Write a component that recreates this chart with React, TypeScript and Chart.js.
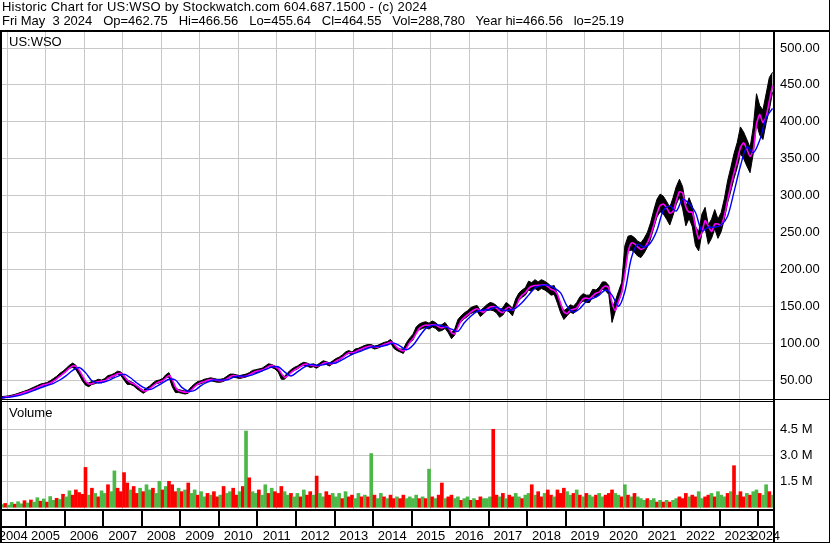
import React, { useEffect, useRef } from 'react';
import { Chart, registerables } from 'chart.js';
Chart.register(...registerables);

// ---- Data ----
const SYMBOL = 'US:WSO';
const START_X = 2004.37; // first monthly sample: May 2004
const X_MIN = 2004.369;
const X_MAX = 2024.382;
const YEAR_BOUNDS = [2005, 2006, 2007, 2008, 2009, 2010, 2011, 2012, 2013, 2014, 2015, 2016, 2017, 2018, 2019, 2020, 2021, 2022, 2023, 2024];
const YEAR_LABELS = ['2004', '2005', '2006', '2007', '2008', '2009', '2010', '2011', '2012', '2013', '2014', '2015', '2016', '2017', '2018', '2019', '2020', '2021', '2022', '2023', '2024'];
const PRICE_TICKS = [50, 75, 100, 125, 150, 175, 200, 225, 250, 275, 300, 325, 350, 375, 400, 425, 450, 475, 500];
const VOLUME_TICKS = [1500000, 3000000, 4500000];

// monthly high (visual top of bars)
const high = [
  27.5, 28, 28.5, 29.5, 30.5, 32, 33.5, 35,
  36.5, 38.5, 40.5, 42.5, 44.5, 45.5, 46.5, 49, 52, 55, 59, 62,
  66, 70, 73, 70, 63, 55, 47, 46, 48, 49, 51, 50,
  52, 56, 57, 59, 62, 61, 56, 50, 48, 46, 42, 39,
  36, 39, 42, 46, 49, 50, 52, 57, 60, 49, 39, 37,
  36, 35, 36, 41, 45, 48, 49, 51, 52, 53, 52, 51,
  51, 52, 55, 58, 58, 57, 56, 57, 58, 60, 63, 64,
  65, 66, 69, 72, 71, 69, 66, 57, 55, 60, 64, 67,
  69, 72, 74, 73, 71, 72, 70, 73, 76, 75, 73, 76,
  79, 81, 84, 88, 90, 88, 92, 93, 95, 97, 98, 98,
  96, 97, 99, 101, 102, 105, 99, 94, 92, 92, 101, 107,
  112, 122, 126, 128, 129, 127, 130, 128, 124, 125, 128, 122,
  114, 119, 132, 137, 141, 144, 148, 150, 151, 144, 148, 152,
  155, 154, 151, 145, 148, 155, 152, 147, 160, 168, 172, 175,
  184, 182, 186, 183, 186, 184, 181, 177, 178, 166, 153, 144,
  147, 152, 150, 155, 163, 167, 165, 165, 173, 172, 176, 183,
  183, 178, 148, 157, 170, 182, 232, 245, 246, 243, 238, 236,
  242, 250, 263, 280, 295, 302, 299, 292, 284, 297, 312, 322,
  312, 285, 297, 286, 258, 251, 275, 284, 260, 268, 281, 268,
  277, 296, 320, 338, 357, 372, 393, 386, 376, 365, 393, 438,
  422, 416, 438, 460, 467,
];

// monthly low (visual bottom of bars)
const low = [
  25.2, 26, 26.5, 27.5, 28.5, 30, 31.5, 33,
  33.5, 35.5, 37.5, 39.5, 41.5, 42.5, 43.5, 45, 48, 51, 55, 58,
  62, 66, 67, 64, 57, 49, 43, 41, 44, 45, 47, 46,
  48, 52, 53, 55, 58, 56, 50, 44, 44, 42, 38, 35,
  32, 35, 38, 42, 45, 46, 48, 53, 54, 41, 33, 33,
  32, 31, 32, 37, 41, 44, 45, 47, 48, 49, 48, 47,
  47, 48, 51, 54, 54, 53, 52, 53, 54, 56, 59, 60,
  61, 62, 65, 68, 67, 65, 61, 51, 51, 56, 60, 63,
  65, 68, 70, 69, 67, 68, 66, 69, 72, 71, 69, 72,
  75, 77, 80, 84, 86, 84, 88, 89, 91, 93, 94, 94,
  92, 93, 95, 97, 98, 101, 93, 90, 88, 86, 95, 101,
  104, 114, 118, 120, 121, 119, 122, 120, 116, 117, 120, 114,
  106, 111, 124, 129, 133, 136, 140, 142, 143, 136, 140, 144,
  145, 144, 141, 135, 138, 145, 142, 137, 150, 158, 162, 165,
  172, 170, 174, 171, 174, 172, 169, 165, 166, 154, 141, 132,
  137, 142, 140, 145, 153, 157, 155, 155, 163, 162, 166, 173,
  171, 166, 128, 143, 156, 168, 195, 225, 226, 223, 218, 216,
  222, 230, 241, 256, 271, 278, 275, 268, 260, 273, 288, 298,
  282, 259, 269, 258, 232, 225, 249, 256, 234, 242, 255, 242,
  251, 268, 290, 306, 323, 338, 357, 350, 340, 331, 357, 398,
  382, 376, 398, 416, 440,
];

// short moving average (magenta), monthly
const maShort = [
  26, 26.8, 27.3, 28, 29, 30.3, 31.8, 33.3,
  34.5, 36, 38, 40, 42, 43.5, 44.5, 46, 48.5, 51.5, 55, 58.5,
  62, 66, 69, 68.5, 63.5, 56, 48.5, 44.5, 45, 46.5, 48, 48.5,
  49, 52, 54.5, 56, 58.5, 59, 55.5, 50, 46.5, 45, 42, 38.5,
  35.5, 35.5, 38.5, 42, 45.5, 47.5, 49, 52.5, 56, 51, 40.5, 35.5,
  34.5, 33.5, 33.5, 36.5, 41, 44.5, 46.5, 48, 49.5, 50.5, 50.5, 49.5,
  49, 49.5, 51.5, 54.5, 56, 55.5, 54.5, 54.5, 55.5, 57, 59.5, 61.5,
  62.5, 63.5, 65.5, 68.5, 69.5, 68, 65.5, 59, 53.5, 55.5, 60, 63.5,
  66, 68.5, 71, 71.5, 70, 69.5, 69, 69.5, 72.5, 73.5, 72, 72.5,
  75.5, 78, 80.5, 84, 87, 87, 88, 90.5, 92, 94, 95.5, 96,
  95, 94.5, 96, 98, 99.5, 101.5, 99.5, 94, 91, 89.5, 93.5, 101,
  106, 113, 120, 123, 124.5, 124, 124.5, 125, 122, 120.5, 122.5, 121,
  114, 112.5, 121.5, 130.5, 135, 138.5, 142, 145, 146.5, 143.5, 142, 146,
  149, 149.5, 147.5, 143, 141.5, 146.5, 148.5, 144.5, 148.5, 159, 165, 168.5,
  174, 177, 178, 178.5, 178.5, 179, 176.5, 173, 171.5, 166, 153.5, 142.5,
  140, 144.5, 146, 147.5, 154, 160, 161, 160, 164, 167.5, 169, 174.5,
  177.5, 174.5, 155, 144, 156.5, 169, 193.5, 223.5, 235.5, 234.5, 230.5, 227,
  229, 236, 246, 260, 275.5, 286.5, 288.5, 283.5, 276, 278.5, 292.5, 305,
  303.5, 284.5, 277.5, 277.5, 258.5, 241.5, 250, 266, 258.5, 251, 261.5, 261.5,
  259.5, 273, 293.5, 313.5, 331, 347.5, 365, 371.5, 363, 353, 361.5, 396.5,
  410, 399, 407, 428, 449,
];

// long moving average (blue), every second month
const maLong = [
  26, 26.8, 28, 29.8,
  32.5, 36, 39.5, 42.5, 45.5, 50,
  56, 63, 67, 60, 49, 46,
  47.5, 51, 55, 58, 53, 46,
  40, 37, 41, 46, 51, 50,
  40, 35, 36, 42.5, 47, 50,
  50, 50, 53.5, 55.5, 55, 57,
  60.5, 64, 67.5, 68, 61, 55.5,
  61, 67, 71, 70, 70.5, 73,
  73, 77.5, 82.5, 86.5, 89.5, 93,
  95.5, 95.5, 97.5, 100, 96, 91,
  97, 109, 120, 124, 124.5, 122,
  119, 116, 127.5, 136.5, 143, 145,
  145.5, 149, 144.5, 144.5, 147.5, 155,
  165, 175, 178, 178.5, 175, 168,
  150, 142, 147, 156.5, 160.5, 165,
  172, 165, 150, 170, 215, 234,
  230, 236, 253, 280, 286, 279,
  295, 289, 277, 252, 257, 257,
  260, 272, 305, 340, 366, 358,
  375, 405, 418,
];

// volume in millions of shares, monthly
const volume = [
  0.15, 0.22, 0.12, 0.28, 0.18, 0.32, 0.2, 0.38,
  0.25, 0.42, 0.3, 0.55, 0.35, 0.48, 0.3, 0.62, 0.4, 0.52, 0.45, 0.75,
  0.6, 0.95, 0.7, 1.0, 0.85, 0.75, 2.3, 0.7, 1.1, 0.8, 0.6, 0.95,
  0.8, 1.3, 0.9, 2.1, 1.1, 0.9, 2.0, 1.4, 1.0, 1.2, 0.8, 1.1,
  0.9, 1.3, 1.0, 1.1, 0.8, 1.5, 1.0, 1.2, 1.5, 1.3, 0.9, 1.1,
  0.9, 1.0, 1.4, 0.8, 1.0, 0.7, 0.9, 0.6, 0.8, 0.7, 0.9, 0.6,
  0.7, 1.2, 0.8, 0.9, 1.1, 0.7, 0.9, 1.2, 4.4, 1.7, 0.9, 0.8,
  1.0, 0.7, 1.3, 0.8, 1.1, 0.9, 0.8, 1.2, 0.9, 0.7, 0.8, 0.6,
  0.8, 0.6, 1.0, 0.7, 0.9, 0.7, 1.8, 0.8, 0.6, 0.9, 0.7, 0.8,
  0.6, 0.8, 0.5, 0.9, 0.6, 0.7, 0.5, 0.8, 0.6, 0.7, 0.6, 3.1,
  0.7, 0.5, 0.8, 0.6, 0.5, 0.7, 0.5, 0.6, 0.5, 0.7, 0.5, 0.6,
  0.5, 0.7, 0.5, 0.6, 0.5, 2.2, 0.6, 0.5, 0.7, 1.4, 0.5, 0.6,
  0.7, 0.5, 0.6, 0.4, 0.5, 0.6, 0.4, 0.5, 0.4, 0.6, 0.5, 0.5,
  0.6, 4.5, 0.7, 0.6, 0.8, 0.5, 0.7, 0.6, 0.8, 0.6, 0.5, 0.7,
  0.8, 1.3, 0.7, 0.9, 0.6, 0.8, 1.0, 0.7, 0.6, 1.0, 0.8, 1.1,
  0.9, 0.7, 0.8, 1.0, 0.7, 0.6, 0.8, 0.7, 0.6, 0.7, 0.8, 0.6,
  0.7, 0.8, 1.0, 0.8, 0.7, 0.6, 1.3, 0.7, 0.6, 0.8, 0.6, 0.5,
  0.4, 0.5, 0.4, 0.5, 0.3, 0.4, 0.3, 0.4, 0.3, 0.4, 0.5, 0.6,
  0.5, 0.8, 0.6, 0.7, 0.6, 0.9, 0.5, 0.6, 0.7, 0.8, 0.6, 0.9,
  0.7, 0.6, 0.8, 0.9, 2.4, 0.7, 0.9, 0.6, 0.8, 0.7, 0.9, 1.0,
  0.8, 0.7, 1.3, 0.9, 0.7,
];

// G = up bar, R = down bar (one letter per month)
const volumeDirection =
  'GRGGRGGR' +
  'GRGGRGRGGRGR' + 'GGRRRRRGRGRG' + 'GRGGRRRRGRRG' + 'RGGRGGRGRRRG' +
  'RGRGGRGGRGRR' + 'GRGGRRGRGRGG' + 'RGGRGRRRGGRG' + 'GRGRRGRGGRRG' +
  'GGRGRRGGRGRG' + 'RGGRGRRGRRGG' + 'GGRGRGRGRRGR' + 'RGGRGGRGRRGG' +
  'GRRGRGRRGGRG' + 'GRGRRGRRGRRR' + 'GGRGRGRGGRGG' + 'RRRGGRGRGRGG' +
  'GRGGRGRGRGGR' + 'RRGRRGGRRGRG' + 'GGRGRGRRGRGG' +
  'RGGRG';

const HEADER_1 = 'Historic Chart for US:WSO by Stockwatch.com 604.687.1500 - (c) 2024';
const HEADER_2 = 'Fri May  3 2024   Op=462.75   Hi=466.56   Lo=455.64   Cl=464.55   Vol=288,780   Year hi=466.56   lo=25.19';

const FONT = "'Liberation Sans', Arial, sans-serif";
const GRID = '#c8c8c8';

const monthX = (i: number) => START_X + i / 12;

export default function App() {
  const ref = useRef<HTMLCanvasElement | null>(null);

  useEffect(() => {
    document.body.style.margin = '0';
    const canvas = ref.current;
    if (!canvas) return;

    const framePlugin = {
      id: 'frame',
      afterDraw(chart: any) {
        const ctx = chart.ctx;
        const ca = chart.chartArea;
        const xs = chart.scales.x;
        const yp = chart.scales.y;
        const yv = chart.scales.yv;
        const W = chart.width;
        const H = chart.height;
        ctx.save();
        ctx.fillStyle = '#000';
        ctx.fillRect(0, ca.top, W, 2);
        ctx.fillRect(0, ca.top, ca.left, H - ca.top);
        ctx.fillRect(ca.right, ca.top, 2, H - ca.top);
        ctx.fillRect(0, Math.round(yp.bottom) - 1, W, 1);
        ctx.fillRect(0, Math.round(yp.bottom) + 1, ca.right, 1);
        ctx.fillRect(0, ca.bottom, ca.right, 2);
        const rowY = ca.bottom + 17;
        ctx.fillRect(0, rowY, ca.right, 2);
        ctx.fillRect(W - 1, 0, 1, H);
        ctx.fillRect(0, H - 1, W, 1);
        YEAR_BOUNDS.forEach((yr) => {
          const px = Math.round(xs.getPixelForValue(yr));
          ctx.fillRect(px - 1, ca.bottom, 2, rowY - ca.bottom);
        });
        ctx.font = `13px ${FONT}`;
        ctx.textAlign = 'center';
        ctx.textBaseline = 'middle';
        YEAR_LABELS.forEach((lab, i) => {
          const yr = 2004 + i;
          const l = Math.max(xs.getPixelForValue(yr), 0);
          const r = Math.min(xs.getPixelForValue(yr + 1), ca.right);
          ctx.fillText(lab, (l + r) / 2, rowY + 10);
        });
        ctx.textAlign = 'left';
        ctx.fillText(SYMBOL, ca.left + 7, ca.top + 12);
        ctx.fillText('Volume', ca.left + 7, yv.top + 13);
        ctx.restore();
      },
    };

    const hiData = high.map((v, i) => ({ x: monthX(i), y: v }));
    const loData = low.map((v, i) => ({ x: monthX(i), y: v }));
    const maSData = maShort.map((v, i) => ({ x: monthX(i), y: v }));
    const maLData = maLong.map((v, i) => ({ x: monthX(i * 2), y: v }));
    const volData = volume.map((v, i) => ({ x: monthX(i), y: v * 1e6 }));
    const volColors = volume.map((_, i) => (volumeDirection[i] === 'G' ? '#4cb848' : '#ff0000'));

    const chart = new Chart(canvas, {
      type: 'line',
      data: {
        datasets: [
          {
            data: hiData, yAxisID: 'y', borderColor: '#000', borderWidth: 1,
            backgroundColor: '#000', fill: '+1', pointRadius: 0, tension: 0, order: 3,
          },
          {
            data: loData, yAxisID: 'y', borderColor: '#000', borderWidth: 1,
            fill: false, pointRadius: 0, tension: 0, order: 3,
          },
          {
            data: maSData, yAxisID: 'y', borderColor: '#ff00ff', borderWidth: 1.6,
            fill: false, pointRadius: 0, tension: 0.2, order: 2,
          },
          {
            data: maLData, yAxisID: 'y', borderColor: '#0000ff', borderWidth: 1.4,
            fill: false, pointRadius: 0, tension: 0.3, order: 1,
          },
          {
            type: 'bar', data: volData, yAxisID: 'yv', backgroundColor: volColors,
            barThickness: 3, borderWidth: 0, order: 4,
          } as any,
        ],
      },
      options: {
        animation: false,
        responsive: false,
        events: [],
        layout: { padding: { left: 2, top: 30, right: 0, bottom: 0 } },
        plugins: { legend: { display: false }, tooltip: { enabled: false }, title: { display: false } },
        scales: {
          x: {
            type: 'linear', min: X_MIN, max: X_MAX, offset: false,
            afterBuildTicks: (s: any) => { s.ticks = YEAR_BOUNDS.map((v) => ({ value: v })); },
            ticks: { display: false },
            grid: { color: GRID, drawTicks: false, lineWidth: 1 },
            border: { display: false },
            afterFit: (s: any) => { s.height = 34; },
          },
          y: {
            type: 'linear', position: 'right', stack: 'main', stackWeight: 370,
            min: 22.9, max: 524.4,
            afterBuildTicks: (s: any) => { s.ticks = PRICE_TICKS.map((v) => ({ value: v })); },
            ticks: {
              callback: (v: any) => Number(v).toFixed(2),
              font: { family: FONT, size: 13 }, color: '#000', padding: 7,
            },
            grid: { color: GRID, drawTicks: false, lineWidth: 1 },
            border: { display: false },
            afterFit: (s: any) => { s.width = 57; },
          },
          yv: {
            type: 'linear', position: 'right', stack: 'main', stackWeight: 109,
            min: -100000, max: 6190000,
            afterBuildTicks: (s: any) => { s.ticks = VOLUME_TICKS.map((v) => ({ value: v })); },
            ticks: {
              callback: (v: any) => (Number(v) / 1e6).toFixed(1) + ' M',
              font: { family: FONT, size: 13 }, color: '#000', padding: 7,
            },
            grid: { color: GRID, drawTicks: false, lineWidth: 1 },
            border: { display: false },
            afterFit: (s: any) => { s.width = 57; },
          },
        },
      } as any,
      plugins: [framePlugin],
    });
    return () => chart.destroy();
  }, []);

  return (
    <div style={{ position: 'relative', width: 830, height: 543, background: '#fff', overflow: 'hidden' }}>
      <canvas ref={ref} width={830} height={543} style={{ position: 'absolute', left: 0, top: 0 }} />
      <div style={{ position: 'absolute', left: 2, top: 0, font: `13px ${FONT}`, lineHeight: '14px', color: '#000', whiteSpace: 'pre' }}>
        <div style={{ letterSpacing: '0.2px' }}>{HEADER_1}</div>
        <div>{HEADER_2}</div>
      </div>
    </div>
  );
}
